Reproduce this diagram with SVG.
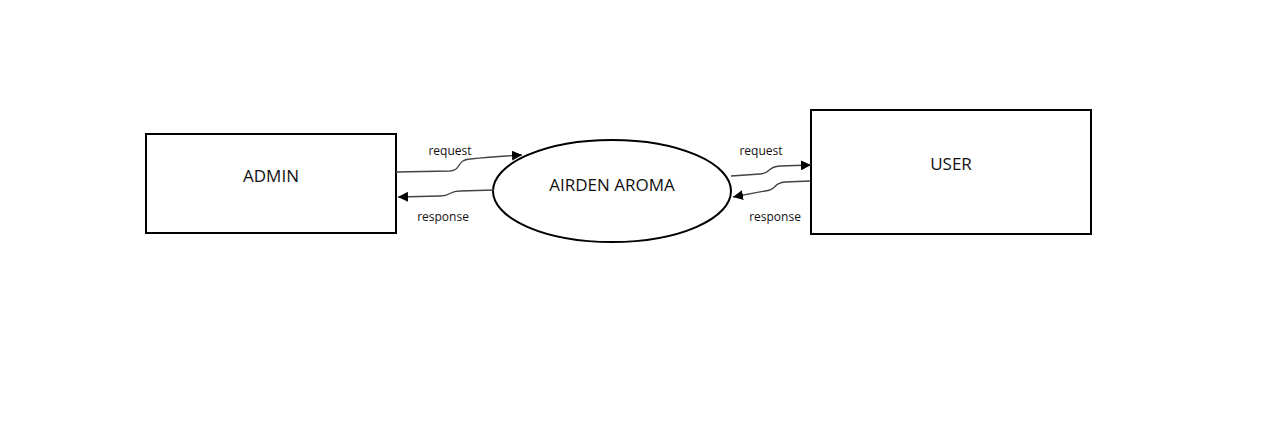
<svg xmlns="http://www.w3.org/2000/svg" width="1287" height="440" viewBox="0 0 1287 440">
<style>
.box{fill:#fff;stroke:#000;stroke-width:2}
.lbl{font-family:"Open Sans","Liberation Sans",sans-serif;font-size:17px;fill:#111;text-anchor:middle}
.sm{font-family:"Open Sans","Liberation Sans",sans-serif;font-size:12px;fill:#111;text-anchor:middle}
.conn{fill:none;stroke:#444;stroke-width:1.3}
</style>
<defs>
<marker id="arr" viewBox="0 0 10 10" refX="10" refY="5" markerWidth="10" markerHeight="10" markerUnits="userSpaceOnUse" orient="auto">
<path d="M0,0 L10,5 L0,10 z" fill="#000"/>
</marker>
</defs>
<rect width="1287" height="440" fill="#fff"/>
<g id="admin">
<rect class="box" x="146" y="134" width="250" height="99"/>
<text class="lbl" x="271" y="182">ADMIN</text>
</g>
<g id="airden">
<ellipse cx="612" cy="191" rx="119" ry="51" fill="#fff" stroke="#000" stroke-width="2"/>
<text class="lbl" x="612" y="191">AIRDEN AROMA</text>
</g>
<g id="user">
<rect class="box" x="811" y="110" width="280" height="124"/>
<text class="lbl" x="951" y="170">USER</text>
</g>
<g id="connectors">
<path class="conn" marker-end="url(#arr)" d="M396,172 L450,171 C462,170 456,160 470,159 C490,157 505,156 522,155"/>
<path class="conn" marker-end="url(#arr)" d="M494,190 L460,191 C448,191 452,196 440,196 L398,197"/>
<path class="conn" marker-end="url(#arr)" d="M731,176 L760,174 C772,173 766,167 780,166 L811,165"/>
<path class="conn" marker-end="url(#arr)" d="M810,181 L785,182 C772,183 778,190 765,191 L733,197"/>
<text class="sm" x="450" y="155">request</text>
<text class="sm" x="443" y="221">response</text>
<text class="sm" x="761" y="155">request</text>
<text class="sm" x="775" y="221">response</text>
</g>
</svg>
